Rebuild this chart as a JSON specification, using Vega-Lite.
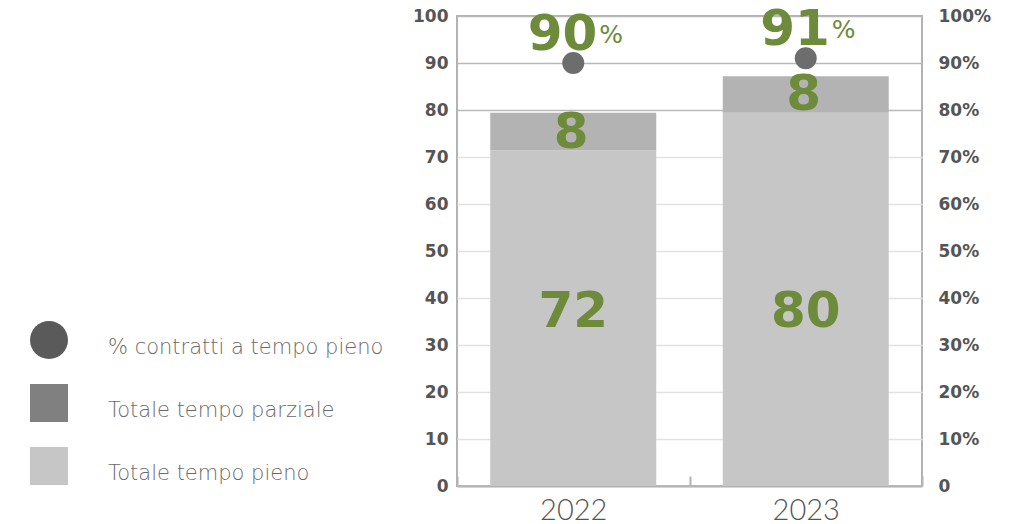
{
  "$schema": "https://vega.github.io/schema/vega-lite/v6.json",
  "width": 465,
  "height": 470,
  "autosize": {"type": "none"},
  "padding": {"left": 457, "top": 16, "right": 109, "bottom": 38},
  "background": "white",
  "config": {
    "view": {"stroke": "#b3b3b3", "strokeWidth": 2},
    "font": "DejaVu Sans"
  },
  "datasets": {
    "bars": [
      {"anno": "2022", "serie": "Totale tempo pieno", "valore": 71.4, "etichetta": "72"},
      {"anno": "2022", "serie": "Totale tempo parziale", "valore": 8.0, "etichetta": "8"},
      {"anno": "2023", "serie": "Totale tempo pieno", "valore": 79.4, "etichetta": "80"},
      {"anno": "2023", "serie": "Totale tempo parziale", "valore": 7.8, "etichetta": "8"}
    ],
    "pct": [
      {"anno": "2022", "serie": "% contratti a tempo pieno", "quota": 0.90},
      {"anno": "2023", "serie": "% contratti a tempo pieno", "quota": 0.91}
    ]
  },
  "encoding": {
    "x": {
      "field": "anno",
      "type": "nominal",
      "scale": {"paddingInner": 0, "paddingOuter": 0},
      "axis": {
        "title": null,
        "labelAngle": 0,
        "labelFont": "Lato",
        "labelFontWeight": 300,
        "labelFontSize": 29,
        "labelColor": "#555555",
        "labelPadding": 20,
        "domainColor": "#b3b3b3",
        "domainWidth": 2,
        "tickBand": "extent",
        "tickSize": -10,
        "tickColor": "#b3b3b3",
        "tickWidth": 2
      }
    }
  },
  "layer": [
    {
      "layer": [
        {
          "data": {"name": "bars"},
          "mark": {"type": "bar", "width": {"band": 0.714}},
          "encoding": {
            "y": {
              "field": "valore",
              "type": "quantitative",
              "stack": "zero",
              "title": null,
              "scale": {"domain": [0, 100]},
              "axis": {
                "title": null,
                "values": [0, 10, 20, 30, 40, 50, 60, 70, 80, 90, 100],
                "labelFont": "DejaVu Sans",
                "labelFontWeight": "bold",
                "labelFontSize": 17,
                "labelColor": "#555555",
                "labelPadding": 9,
                "domain": false,
                "ticks": false,
                "grid": true,
                "gridColor": {"condition": {"test": "datum.value >= 80", "value": "#b8b8b8"}, "value": "#e2e2e2"},
                "gridWidth": 1.5
              }
            },
            "color": {
              "condition": {"test": "datum.serie === 'Totale tempo parziale'", "value": "#b3b3b3"},
              "field": "serie",
              "type": "nominal",
              "title": null,
              "scale": {
                "domain": ["% contratti a tempo pieno", "Totale tempo parziale", "Totale tempo pieno"],
                "range": ["#5a5a5a", "#808080", "#c6c6c6"]
              },
              "legend": {
                "title": null,
                "orient": "none",
                "legendX": -427,
                "legendY": 305,
                "direction": "vertical",
                "symbolSize": 1444,
                "symbolStrokeWidth": 0,
                "symbolOpacity": 1,
                "rowPadding": 25,
                "labelOffset": 40,
                "labelFont": "DejaVu Sans",
                "labelFontWeight": 200,
                "labelFontSize": 21,
                "labelColor": "#6a6a6a",
                "labelLimit": 400,
                "padding": 0,
                "encode": {
                  "symbols": {
                    "update": {
                      "shape": {"signal": "datum.label === '% contratti a tempo pieno' ? 'circle' : 'square'"}
                    }
                  },
                  "labels": {"update": {"dy": {"value": 8}}}
                }
              }
            },
            "order": {"field": "serie", "sort": "descending"}
          }
        },
        {
          "data": {"name": "bars"},
          "transform": [
            {"stack": "valore", "groupby": ["anno"], "sort": [{"field": "serie", "order": "descending"}], "as": ["v0", "v1"]},
            {"filter": "datum.serie === 'Totale tempo parziale'"},
            {"calculate": "(datum.v0 + datum.v1) / 2", "as": "centro"}
          ],
          "mark": {"type": "text", "font": "DejaVu Sans", "fontWeight": "bold", "fontSize": 50, "color": "#6d8b3a", "baseline": "middle", "dx": -2, "dy": 1},
          "encoding": {
            "y": {"field": "centro", "type": "quantitative", "title": null},
            "text": {"field": "etichetta"}
          }
        },
        {
          "data": {"name": "bars"},
          "transform": [{"filter": "datum.serie === 'Totale tempo pieno'"}],
          "mark": {"type": "text", "font": "DejaVu Sans", "fontWeight": "bold", "fontSize": 50, "color": "#6d8b3a", "baseline": "middle"},
          "encoding": {
            "y": {"datum": 37, "type": "quantitative", "title": null},
            "text": {"field": "etichetta"}
          }
        }
      ]
    },
    {
      "data": {"name": "pct"},
      "transform": [{"calculate": "format(datum.quota * 100, 'd')", "as": "numero"}],
      "layer": [
        {
          "mark": {"type": "point", "filled": true, "size": 484, "opacity": 1},
          "encoding": {
            "y": {
              "field": "quota",
              "type": "quantitative",
              "title": null,
              "scale": {"domain": [0, 1]},
              "axis": {
                "title": null,
                "orient": "right",
                "values": [0, 0.1, 0.2, 0.3, 0.4, 0.5, 0.6, 0.7, 0.8, 0.9, 1],
                "labelExpr": "datum.value === 0 ? '0' : format(datum.value, '.0%')",
                "labelFont": "DejaVu Sans",
                "labelFontWeight": "bold",
                "labelFontSize": 17,
                "labelColor": "#555555",
                "labelPadding": 16,
                "domain": false,
                "ticks": false,
                "grid": false
              }
            },
            "color": {
              "condition": {"test": "datum.quota > 0", "value": "#6d6d6d"},
              "field": "serie",
              "type": "nominal",
              "title": null
            }
          }
        },
        {
          "mark": {"type": "text", "font": "DejaVu Sans", "fontWeight": "bold", "fontSize": 50, "color": "#6d8b3a", "align": "right", "baseline": "alphabetic", "dx": 24, "dy": -13},
          "encoding": {
            "y": {"field": "quota", "type": "quantitative", "title": null},
            "text": {"field": "numero"}
          }
        },
        {
          "mark": {"type": "text", "font": "DejaVu Sans", "fontSize": 25, "color": "#6d8b3a", "align": "left", "baseline": "alphabetic", "dx": 26, "dy": -20},
          "encoding": {
            "y": {"field": "quota", "type": "quantitative", "title": null},
            "text": {"value": "%"}
          }
        }
      ]
    }
  ],
  "resolve": {"scale": {"y": "independent"}}
}
